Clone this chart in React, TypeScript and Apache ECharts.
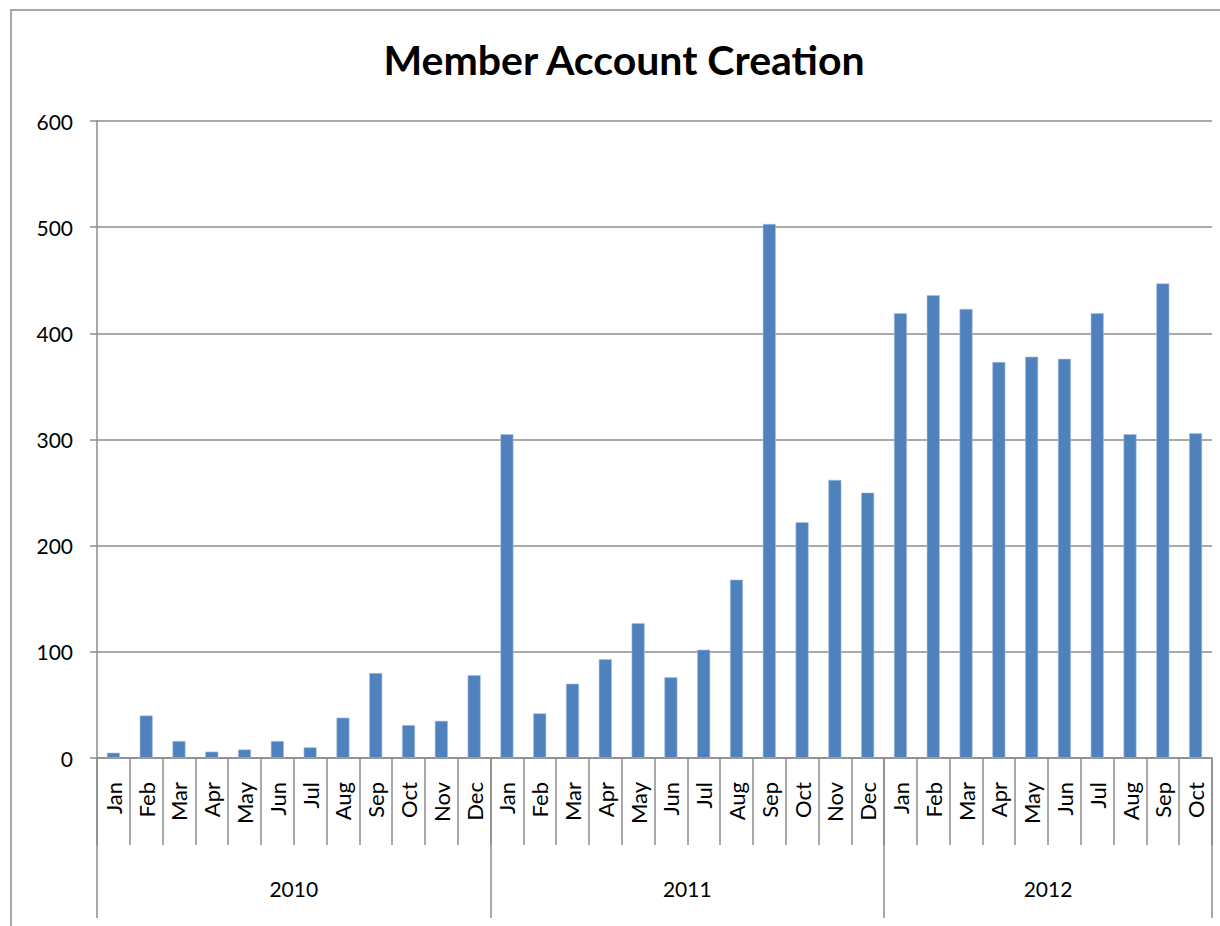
import React, { useEffect, useRef } from "react";
import * as echarts from "echarts";

const title = "Member Account Creation";
const monthNames = ["Jan", "Feb", "Mar", "Apr", "May", "Jun", "Jul", "Aug", "Sep", "Oct", "Nov", "Dec"];
const years = ["2010", "2011", "2012"];
const monthsPerYear = [12, 12, 10];
const values2010 = [5, 40, 16, 6, 8, 16, 10, 38, 80, 31, 35, 78];
const values2011 = [305, 42, 70, 93, 127, 76, 102, 168, 503, 222, 262, 250];
const values2012 = [419, 436, 423, 373, 378, 376, 419, 305, 447, 306];
const yTicks = [0, 100, 200, 300, 400, 500, 600];

const FONT = "Lato, 'Open Sans', sans-serif";
const GRID = "#8c8c8c";

export default function App() {
  const ref = useRef<HTMLDivElement>(null);
  useEffect(() => {
    if (!ref.current) return;
    const chart = echarts.init(ref.current, null, { renderer: "svg" });

    const categories: string[] = [];
    years.forEach((y, i) => {
      for (let m = 0; m < monthsPerYear[i]; m++) categories.push(monthNames[m]);
    });
    const values = [...values2010, ...values2011, ...values2012];
    const total = categories.length;

    const boundaries: number[] = [0];
    const centers: number[] = [];
    let acc = 0;
    monthsPerYear.forEach((n) => {
      centers.push(acc + n / 2);
      acc += n;
      boundaries.push(acc);
    });

    chart.setOption({
      animation: false,
      backgroundColor: "#ffffff",
      title: {
        text: title,
        left: 619,
        top: 34,
        textAlign: "center",
        textStyle: { fontFamily: FONT, fontWeight: "bold", fontSize: 41, color: "#000" },
      },
      graphic: [
        {
          type: "rect",
          shape: { x: 11, y: 10, width: 1300, height: 1000 },
          style: { fill: "none", stroke: "#a6a6a6", lineWidth: 2 },
          silent: true,
        },
      ],
      grid: { left: 97, right: 8, top: 121, bottom: 168, containLabel: false },
      xAxis: [
        {
          type: "category",
          data: categories,
          boundaryGap: true,
          position: "bottom",
          axisLine: { show: true, lineStyle: { color: GRID, width: 1.5 } },
          axisTick: { show: true, interval: 0, length: 87, lineStyle: { color: GRID, width: 1.5 } },
          axisLabel: {
            interval: 0,
            rotate: 90,
            margin: 24,
            fontFamily: FONT,
            fontSize: 22,
            color: "#000",
          },
          splitLine: { show: false },
        },
        {
          type: "value",
          min: 0,
          max: total,
          position: "bottom",
          axisLine: { show: false },
          axisTick: {
            show: true,
            customValues: boundaries,
            length: 160,
            lineStyle: { color: GRID, width: 1.5 },
          },
          axisLabel: {
            show: true,
            customValues: centers,
            margin: 120,
            fontFamily: FONT,
            fontSize: 21,
            color: "#000",
            formatter: (v: number) => {
              const i = centers.findIndex((c) => Math.abs(c - v) < 1e-6);
              return i >= 0 ? years[i] : "";
            },
          },
          splitLine: { show: false },
        },
      ],
      yAxis: {
        type: "value",
        min: yTicks[0],
        max: yTicks[yTicks.length - 1],
        interval: 100,
        axisLine: { show: true, lineStyle: { color: GRID, width: 1.5 } },
        axisTick: { show: true, length: 7, lineStyle: { color: GRID, width: 1.5 } },
        axisLabel: { margin: 24, fontFamily: FONT, fontSize: 21, color: "#000" },
        splitLine: { show: true, lineStyle: { color: GRID, width: 1.5 } },
      },
      series: [
        {
          type: "bar",
          data: values,
          xAxisIndex: 0,
          barWidth: 13,
          itemStyle: { color: "#4f81bd", borderColor: "#a9c1e0", borderWidth: 0.6 },
        },
      ],
    });
    return () => chart.dispose();
  }, []);
  return (
    <div
      ref={ref}
      style={{ position: "fixed", left: 0, top: 0, width: 1220, height: 926, background: "#fff" }}
    />
  );
}
